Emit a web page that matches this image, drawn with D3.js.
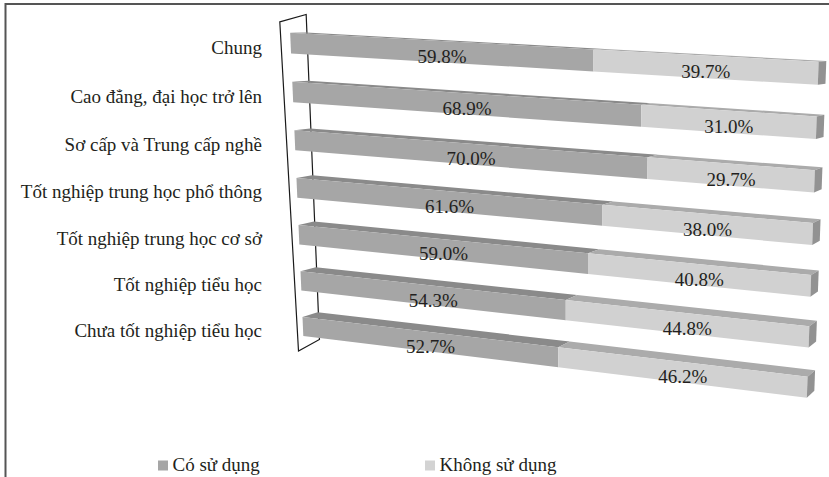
<!DOCTYPE html>
<html>
<head>
<meta charset="utf-8">
<script src="https://cdn.jsdelivr.net/npm/d3@7"></script>
<style>
  html, body { margin: 0; padding: 0; background: #fff; }
  svg { display: block; }
</style>
</head>
<body>
<svg id="chart" width="829" height="477"></svg>
<script>
// ---- data ----
const categories = [
  "Chung",
  "Cao đẳng, đại học trở lên",
  "Sơ cấp và Trung cấp nghề",
  "Tốt nghiệp trung học phổ thông",
  "Tốt nghiệp trung học cơ sở",
  "Tốt nghiệp tiểu học",
  "Chưa tốt nghiệp tiểu học"
];
const coSuDung     = [59.8, 68.9, 70.0, 61.6, 59.0, 54.3, 52.7];
const khongSuDung  = [39.7, 31.0, 29.7, 38.0, 40.8, 44.8, 46.2];
const seriesNames  = ["Có sử dụng", "Không sử dụng"];
const seriesValues = [coSuDung, khongSuDung];

// ---- styles for each series: front, top and end faces ----
const faceColors = [
  { front: "#a6a6a6", top: "#8a8a8a", end: "#8c8c8c", legend: "#a6a6a6" },
  { front: "#d1d1d1", top: "#ababab", end: "#929292", legend: "#d3d3d3" }
];
const FONT = "'Liberation Serif', 'Times New Roman', serif";
const TEXT_COLOR = "#231f20";

const W = 829, H = 477;
const svg = d3.select("#chart");

// ---- 3D space: u = share of the bar (0..1), v = category bands, w = bar depth (0 front, 1 back)
const vScale = d3.scaleBand()
  .domain(categories)
  .range([0, categories.length])
  .paddingInner(0.58)
  .paddingOuter(0.29);
const bw = vScale.bandwidth();
const vFirst = vScale(categories[0]);
const vLast = vScale(categories[categories.length - 1]);

// Camera set-up: where chosen corners of the bar block land on the page.
const cameraAnchors = [
  [[0, vFirst, 0],        [290.7, 34]],
  [[0, vFirst + bw, 0],   [290.7, 53.3]],
  [[0, vLast, 0],         [302.3, 317.7]],
  [[0, vLast + bw, 0],    [302.3, 335.3]],
  [[1, vFirst, 0],        [818, 64]],
  [[1, vFirst + bw, 0],   [818, 83]],
  [[1, vLast, 0],         [808, 374]],
  [[1, vLast + bw, 0],    [808, 399]],
  [[0, vFirst, 1],        [305.7, 31.3]],
  [[0, vLast, 1],         [319, 312.3]],
  [[1, vFirst, 1],        [827, 60.7]],
  [[1, vLast, 1],         [813.3, 371.7]]
];

// Fit a 3x4 perspective matrix (11 unknowns) by least squares.
function fitPerspective(pairs) {
  const s = 100; // work in scaled page units for conditioning
  const rows = [], rhs = [];
  for (const [[u, v, w], [X, Y]] of pairs) {
    const x = X / s, y = Y / s;
    rows.push([u, v, w, 1, 0, 0, 0, 0, -x * u, -x * v, -x * w]); rhs.push(x);
    rows.push([0, 0, 0, 0, u, v, w, 1, -y * u, -y * v, -y * w]); rhs.push(y);
  }
  const n = 11;
  const M = [];
  for (let i = 0; i < n; i++) {
    const r = new Array(n + 1).fill(0);
    for (let k = 0; k < rows.length; k++) {
      for (let j = 0; j < n; j++) r[j] += rows[k][i] * rows[k][j];
      r[n] += rows[k][i] * rhs[k];
    }
    M.push(r);
  }
  for (let c = 0; c < n; c++) {
    let p = c;
    for (let r = c + 1; r < n; r++) if (Math.abs(M[r][c]) > Math.abs(M[p][c])) p = r;
    [M[c], M[p]] = [M[p], M[c]];
    for (let r = 0; r < n; r++) {
      if (r === c) continue;
      const f = M[r][c] / M[c][c];
      for (let j = c; j <= n; j++) M[r][j] -= f * M[c][j];
    }
  }
  const p = M.map((r, i) => r[n] / r[i]);
  return (u, v, w) => {
    const h = p[8] * u + p[9] * v + p[10] * w + 1;
    return [s * (p[0] * u + p[1] * v + p[2] * w + p[3]) / h,
            s * (p[4] * u + p[5] * v + p[6] * w + p[7]) / h];
  };
}
const project = fitPerspective(cameraAnchors);
const poly = pts => "M" + pts.map(q => project(...q).map(d => d.toFixed(2)).join(",")).join("L") + "Z";

// ---- frame ----
svg.append("path")
  .attr("d", `M5.5,${H}L5.5,4L${W},4`)
  .attr("fill", "none").attr("stroke", "#555").attr("stroke-width", 2);

// ---- side wall at the start of the value axis (outline in the u = 0 plane) ----
const wallCorners = [
  [0, 0.07, -0.6],              // front top
  [0, -0.08, 1.05],             // back top
  [0, 6.91, 1.05],              // back bottom
  [0, categories.length, -0.35] // front bottom
];
svg.append("path")
  .attr("d", poly(wallCorners))
  .attr("fill", "none").attr("stroke", "#1a1a1a").attr("stroke-width", 1.2)
  .attr("stroke-linejoin", "miter");

// ---- stacked 100% bars ----
const barsG = svg.append("g");
const labelsG = svg.append("g")
  .attr("font-family", FONT)
  .attr("fill", TEXT_COLOR);

categories.forEach((cat, i) => {
  const vals = seriesValues.map(s => s[i]);
  const total = d3.sum(vals);
  const uScale = d3.scaleLinear().domain([0, total]).range([0, 1]);
  const vt = vScale(cat), vb = vt + bw;
  let acc = 0;
  vals.forEach((val, k) => {
    const u0 = uScale(acc), u1 = uScale(acc + val);
    acc += val;
    const c = faceColors[k];
    const g = barsG.append("g");
    g.append("path").attr("d", poly([[u0, vt, 0], [u1, vt, 0], [u1, vt, 1], [u0, vt, 1]]))
      .attr("fill", c.top);
    g.append("path").attr("d", poly([[u0, vt, 0], [u1, vt, 0], [u1, vb, 0], [u0, vb, 0]]))
      .attr("fill", c.front);
    if (k === vals.length - 1) {
      g.append("path").attr("d", poly([[u1, vt, 0], [u1, vt, 1], [u1, vb, 1], [u1, vb, 0]]))
        .attr("fill", c.end);
    }
    // value label centred on the front face
    const a = project(u0, (vt + vb) / 2, 0), b = project(u1, (vt + vb) / 2, 0);
    labelsG.append("text")
      .attr("x", (a[0] + b[0]) / 2)
      .attr("y", (a[1] + b[1]) / 2 + 4.5)
      .attr("text-anchor", "middle")
      .attr("dominant-baseline", "central")
      .attr("font-size", 19)
      .text(d3.format(".1f")(val) + "%");
  });
  // category label beside the wall
  const cpt = project(0, (vt + vb) / 2, 0);
  labelsG.append("text")
    .attr("x", 262)
    .attr("y", cpt[1] + 4)
    .attr("text-anchor", "end")
    .attr("dominant-baseline", "central")
    .attr("font-size", 19)
    .text(cat);
});

// ---- legend ----
const legendX = [158, 425];
const legend = svg.append("g")
  .attr("font-family", FONT)
  .attr("fill", TEXT_COLOR);
seriesNames.forEach((name, k) => {
  legend.append("rect")
    .attr("x", legendX[k]).attr("y", 460.5)
    .attr("width", 10).attr("height", 10)
    .attr("fill", faceColors[k].legend);
  legend.append("text")
    .attr("x", legendX[k] + 14.5).attr("y", 470.5)
    .attr("font-size", 19)
    .text(name);
});
</script>
</body>
</html>
